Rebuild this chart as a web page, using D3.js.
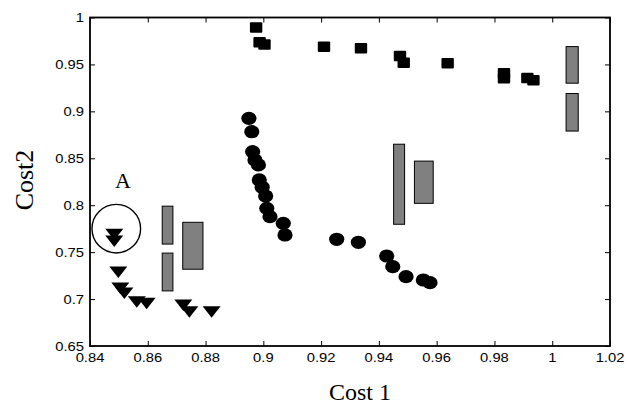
<!DOCTYPE html>
<html><head><meta charset="utf-8">
<script src="https://cdn.jsdelivr.net/npm/d3@7"></script>
<style>body{margin:0;background:#fff}svg{display:block}</style>
</head><body>
<svg id="c" width="629" height="405"></svg>
<script>
// ---- data ----
const xTicks = [0.84,0.86,0.88,0.90,0.92,0.94,0.96,0.98,1.00,1.02];
const xTickLabels = ["0.84","0.86","0.88","0.9","0.92","0.94","0.96","0.98","1","1.02"];
const yTicks = [0.65,0.70,0.75,0.80,0.85,0.90,0.95,1.00];
const yTickLabels = ["0.65","0.7","0.75","0.8","0.85","0.9","0.95","1"];

const squareX = [0.8975,0.8987,0.9004,0.9210,0.9338,0.9473,0.9486,0.9638,0.9833,0.9833,0.9914,0.9935];
const squareY = [0.9893,0.9736,0.9712,0.9689,0.9672,0.9590,0.9518,0.9512,0.9406,0.9352,0.9355,0.9332];

const circleX = [0.8950,0.8960,0.8963,0.8971,0.8983,0.8986,0.8996,0.9008,0.9012,0.9023,0.9069,0.9075,
                 0.9254,0.9329,0.9427,0.9448,0.9494,0.9554,0.9577];
const circleY = [0.8926,0.8783,0.8570,0.8482,0.8429,0.8269,0.8191,0.8098,0.7967,0.7878,0.7807,0.7683,
                 0.7637,0.7605,0.7459,0.7345,0.7239,0.7203,0.7175];

const triX = [0.8484,0.8484,0.8498,0.8505,0.8519,0.8562,0.8596,0.8723,0.8744,0.8821];
const triY = [0.7690,0.7620,0.7289,0.7118,0.7065,0.6972,0.6955,0.6937,0.6866,0.6866];

const boxX0 = [0.8650,0.8650,0.8721,0.9451,0.9523,1.0048,1.0048];
const boxX1 = [0.8687,0.8687,0.8791,0.9489,0.9588,1.0090,1.0090];
const boxY0 = [0.7586,0.7087,0.7318,0.7797,0.8020,0.9300,0.8790];
const boxY1 = [0.7990,0.7490,0.7818,0.8650,0.8470,0.9690,0.9190];

const annotX = [0.8491];
const annotY = [0.7750];
const annotLabel = ["A"];
const annotLabelX = [0.8514];
const annotLabelY = [0.8180];

const xTitle = "Cost 1";
const yTitle = "Cost2";

// ---- layout ----
const L = 90, R = 610, T = 17.5, B = 346;
const svg = d3.select("#c");
const x = d3.scaleLinear().domain([0.84,1.02]).range([L,R]);
const y = d3.scaleLinear().domain([0.65,1.00]).range([B,T]);

const tickLen = 5;
const axisFont = "'Liberation Sans', Arial, sans-serif";
const serif = "'Liberation Serif', 'Times New Roman', serif";

// gray boxes
const boxes = boxX0.map((d,i)=>({x0:d,x1:boxX1[i],y0:boxY0[i],y1:boxY1[i]}));
svg.append("g").selectAll("rect").data(boxes).join("rect")
  .attr("x",d=>x(d.x0)).attr("width",d=>x(d.x1)-x(d.x0))
  .attr("y",d=>y(d.y1)).attr("height",d=>y(d.y0)-y(d.y1))
  .attr("fill","#808080").attr("stroke","#000").attr("stroke-width",1);

// squares
svg.append("g").selectAll("rect").data(squareX.map((d,i)=>[d,squareY[i]])).join("rect")
  .attr("x",d=>x(d[0])-6.2).attr("y",d=>y(d[1])-5.3)
  .attr("width",12.4).attr("height",10.6).attr("rx",1).attr("fill","#000");

// circles
svg.append("g").selectAll("ellipse").data(circleX.map((d,i)=>[d,circleY[i]])).join("ellipse")
  .attr("cx",d=>x(d[0])).attr("cy",d=>y(d[1])).attr("rx",7.6).attr("ry",6.6).attr("fill","#000");

// triangles
svg.append("g").selectAll("path").data(triX.map((d,i)=>[d,triY[i]])).join("path")
  .attr("transform",d=>`translate(${x(d[0])},${y(d[1])})`)
  .attr("d","M-9,-5.5L9,-5.5L0,6Z").attr("fill","#000");

// annotation circle + label
svg.append("g").selectAll("circle").data(annotX.map((d,i)=>[d,annotY[i]])).join("circle")
  .attr("cx",d=>x(d[0])).attr("cy",d=>y(d[1])).attr("r",24.3)
  .attr("fill","none").attr("stroke","#000").attr("stroke-width",1.4);
svg.append("g").selectAll("text").data(annotLabel).join("text")
  .attr("x",(d,i)=>x(annotLabelX[i])).attr("y",(d,i)=>y(annotLabelY[i]))
  .attr("text-anchor","middle").attr("font-family",serif).attr("font-size",22).text(d=>d);

// axes frame
const axG = svg.append("g");
// bottom axis
axG.append("g").attr("transform",`translate(0,${B})`)
  .call(d3.axisBottom(x).tickValues(xTicks).tickSize(-tickLen).tickPadding(0).tickFormat((d,i)=>""))
  .call(g=>g.select(".domain").remove());
// top axis
axG.append("g").attr("transform",`translate(0,${T})`)
  .call(d3.axisTop(x).tickValues(xTicks).tickSize(-tickLen).tickFormat(()=>""))
  .call(g=>g.select(".domain").remove());
// left
axG.append("g").attr("transform",`translate(${L},0)`)
  .call(d3.axisLeft(y).tickValues(yTicks).tickSize(-tickLen).tickFormat(()=>""))
  .call(g=>g.select(".domain").remove());
// right
axG.append("g").attr("transform",`translate(${R},0)`)
  .call(d3.axisRight(y).tickValues(yTicks).tickSize(-tickLen).tickFormat(()=>""))
  .call(g=>g.select(".domain").remove());
axG.selectAll(".tick line").attr("stroke","#000").attr("stroke-width",1);
// box
axG.append("rect").attr("x",L).attr("y",T).attr("width",R-L).attr("height",B-T)
  .attr("fill","none").attr("stroke","#000").attr("stroke-width",1.8);

// tick labels (slightly wide font, as in the reference)
const sx = 1.18;
svg.append("g").selectAll("text").data(xTicks).join("text")
  .attr("transform",d=>`translate(${x(d)},${B+16}) scale(${sx},1)`)
  .attr("text-anchor","middle").attr("font-family",axisFont).attr("font-size",12.5)
  .text((d,i)=>xTickLabels[i]);
svg.append("g").selectAll("text").data(yTicks).join("text")
  .attr("transform",d=>`translate(${L-6},${y(d)+4.5}) scale(${sx},1)`)
  .attr("text-anchor","end").attr("font-family",axisFont).attr("font-size",12.5)
  .text((d,i)=>yTickLabels[i]);

// titles
svg.append("text").attr("x",360).attr("y",400).attr("text-anchor","middle")
  .attr("font-family",serif).attr("font-size",24).text(xTitle);
svg.append("text").attr("transform","translate(33,180) rotate(-90)").attr("text-anchor","middle")
  .attr("font-family",serif).attr("font-size",26).text(yTitle);
</script>
</body></html>
